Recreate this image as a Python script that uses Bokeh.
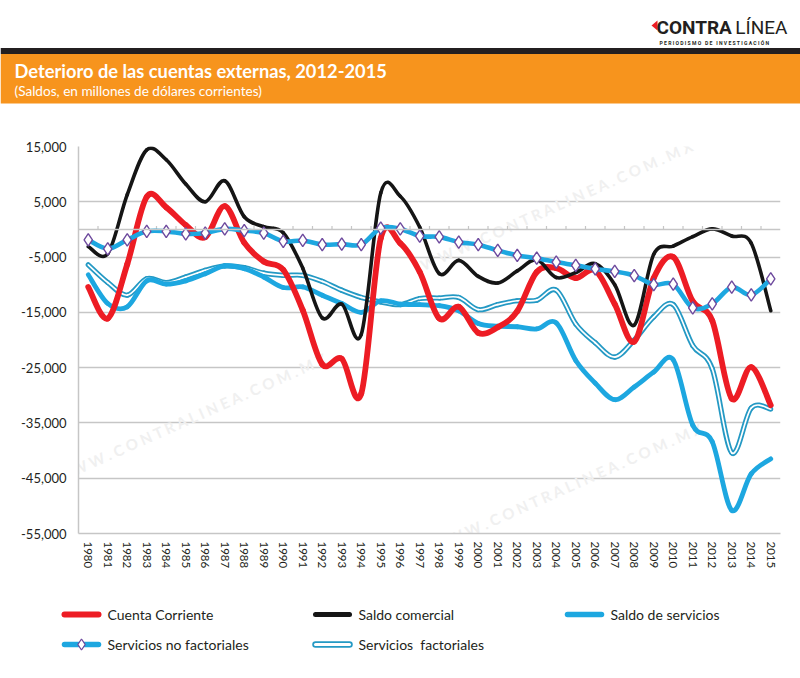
from bokeh.plotting import figure
from bokeh.layouts import column
from bokeh.models import Range1d, FixedTicker, NumeralTickFormatter, Span
from bokeh.core.properties import value
from bokeh.embed import file_html
from bokeh.resources import INLINE

# ---------------- data ----------------
years = list(range(1980, 2016))
year_labels = [str(y) for y in years]

cuenta_corriente = [-10400, -16100, -6300, 5900, 4000, 800, -1400, 4200, -2400, -5800,
                    -7300, -14600, -24400, -23400, -29700, -1600, -2500, -7700, -16100, -14000,
                    -18700, -17700, -14800, -7700, -7000, -8800, -7400, -13500, -20300, -8800,
                    -5000, -13000, -16500, -30600, -24900, -31800]
saldo_comercial = [-3100, -4400, 6300, 14400, 12600, 8200, 5000, 8800, 2300, 500,
                   -600, -7000, -16000, -13500, -19000, 6600, 6000, 400, -8000, -5600,
                   -8500, -9700, -7500, -5500, -8700, -7800, -6200, -10000, -17300, -4500,
                   -3000, -1300, 100, -1200, -2500, -14700]
saldo_servicios = [-8200, -13400, -14000, -9300, -9900, -9300, -8000, -6600, -7100, -8600,
                   -10500, -10400, -11900, -13400, -15000, -12900, -13500, -13600, -13800, -14700,
                   -17000, -17500, -17600, -18000, -16900, -23700, -27800, -30800, -28500, -25800,
                   -23600, -35400, -38400, -50800, -44200, -41500]
servicios_no_factoriales = [-1900, -3500, -1900, -350, -350, -800, -650, 100, -200, -650,
                            -2150, -2000, -2750, -2650, -2750, 250, 100, -1200, -1350, -2300,
                            -2750, -3800, -4700, -5200, -5900, -6500, -7150, -7600, -8350, -10000,
                            -9900, -14200, -13450, -10450, -11850, -8950]
servicios_factoriales = [-6400, -9600, -11900, -8900, -9600, -8600, -7400, -6600, -6900, -7900,
                         -8300, -8300, -9400, -11000, -12300, -13100, -13600, -12500, -12400, -12300,
                         -14500, -13600, -12900, -12800, -11000, -17100, -20500, -23100, -20000, -15800,
                         -13600, -21000, -25200, -40400, -32300, -32500]

y_ticks = [15000, 5000, -5000, -15000, -25000, -35000, -45000, -55000]

series_names = ["Cuenta Corriente", "Saldo comercial", "Saldo de servicios",
                "Servicios no factoriales", "Servicios\u00a0 factoriales"]

title_text = "Deterioro de las cuentas externas, 2012-2015"
subtitle_text = "(Saldos, en millones de dólares corrientes)"

FONT = "Lato"
RED = "#ED1C24"
BLACK = "#151515"
BLUE = "#1DA7E0"
TEAL = "#2499C4"
PURPLE = "#6E4A9E"
ORANGE = "#F7941D"
DARK = "#231F20"
GRID = "#C6C6C6"


def smooth(xs, ys):
    """Cubic Bezier segments (Catmull-Rom style) through the data points."""
    n = len(xs)
    out = {k: [] for k in ("x0", "y0", "x1", "y1", "cx0", "cy0", "cx1", "cy1")}
    for i in range(n - 1):
        a = max(i - 1, 0)
        d = min(i + 2, n - 1)
        out["x0"].append(xs[i]); out["y0"].append(ys[i])
        out["x1"].append(xs[i + 1]); out["y1"].append(ys[i + 1])
        out["cx0"].append(xs[i] + (xs[i + 1] - xs[a]) / 6.0)
        out["cy0"].append(ys[i] + (ys[i + 1] - ys[a]) / 6.0)
        out["cx1"].append(xs[i + 1] - (xs[d] - xs[i]) / 6.0)
        out["cy1"].append(ys[i + 1] - (ys[d] - ys[i]) / 6.0)
    return out


def no_align(fig):
    if "frame_align" in fig.properties():
        fig.frame_align = False


# ---------------- header ----------------
W = 800
hdr = figure(width=W, height=105, x_range=Range1d(0, W), y_range=Range1d(105, 0),
             x_axis_location=None, y_axis_location=None, toolbar_location=None,
             output_backend="svg", min_border=0, outline_line_color=None)
no_align(hdr)
hdr.grid.visible = False
hdr.quad(left=[0], right=[W], top=[47.5], bottom=[53.5], color=DARK, line_color=None)
hdr.quad(left=[0], right=[W], top=[53.5], bottom=[103], color=ORANGE, line_color=None)
hdr.text(x=[14], y=[70], text=[title_text], text_color="white", text_font=value(FONT),
         text_font_style="bold", text_font_size="18.3px", text_baseline="middle")
hdr.text(x=[14], y=[90], text=[subtitle_text], text_color="white", text_font=value(FONT),
         text_font_size="13.6px", text_baseline="middle")
# logo
hdr.patch(x=[651, 657, 657], y=[25, 20, 30], color=RED, line_color=None)
hdr.text(x=[656], y=[27], text=["CONTRA"], text_color=DARK, text_font=value("Roboto"),
         text_font_style="bold", text_font_size="19px", text_baseline="middle")
hdr.text(x=[787], y=[27], text=["LÍNEA"], text_color=DARK, text_font=value("Roboto"),
         text_font_size="19px", text_baseline="middle", text_align="right")
hdr.text(x=[659], y=[42],
         text=["P E R I O D I S M O\u00a0\u00a0\u00a0D E\u00a0\u00a0\u00a0I N V E S T I G A C I Ó N"],
         text_color=DARK, text_font=value("Roboto"), text_font_style="bold",
         text_font_size="5.1px", text_baseline="middle")

# ---------------- main chart ----------------
p = figure(width=W, height=495, x_range=Range1d(1979.5, 2015.5), y_range=Range1d(-55000, 15000),
           toolbar_location=None, output_backend="svg", outline_line_color=None,
           min_border_left=78, min_border_right=20, min_border_top=41, min_border_bottom=67)
no_align(p)
p.xgrid.visible = False
p.ygrid.ticker = FixedTicker(ticks=y_ticks)
p.ygrid.grid_line_color = GRID
p.ygrid.grid_line_width = 1.5

p.yaxis.ticker = FixedTicker(ticks=y_ticks)
p.yaxis.formatter = NumeralTickFormatter(format="0,0")
p.xaxis.ticker = FixedTicker(ticks=years)
p.xaxis.major_label_overrides = {y: s for y, s in zip(years, year_labels)}
p.xaxis.major_label_orientation = "vertical"
for ax in (p.xaxis, p.yaxis):
    ax.axis_line_color = GRID
    ax.axis_line_width = 1.5
    ax.major_tick_out = 0
    ax.major_tick_in = 0
    ax.minor_tick_out = 0
    ax.minor_tick_in = 0
    ax.major_label_text_font = FONT
    ax.major_label_text_color = DARK
p.yaxis.major_label_text_font_size = "13px"
p.yaxis.major_label_standoff = 12
p.xaxis.major_label_text_font_size = "11.5px"
p.xaxis.major_label_standoff = 8

# watermarks
wm = "W W W . C O N T R A L I N E A . C O M . M X"
p.text(x=[2004.1, 1985.3, 2004.6], y=[4500, -34000, -46500], text=[wm, wm, wm],
       angle=0.42, text_align="center", text_baseline="middle", text_color="#F0F0F0",
       text_font=value(FONT), text_font_style="bold", text_font_size="15px")

# zero line with category-boundary ticks
p.add_layout(Span(location=0, dimension="width", line_color=GRID, line_width=1.5))
bounds = [y + 0.5 for y in years[:-1]]
p.segment(x0=bounds, y0=[0] * len(bounds), x1=bounds, y1=[600] * len(bounds),
          line_color=GRID, line_width=1.2)

# series
sf = smooth(years, servicios_factoriales)
p.bezier(line_color=TEAL, line_width=5.2, line_cap="round", **sf)
p.bezier(line_color="white", line_width=1.7, line_cap="round", **sf)
p.bezier(line_color=BLUE, line_width=4.8, line_cap="round", **smooth(years, saldo_servicios))
p.bezier(line_color=RED, line_width=5.8, line_cap="round", **smooth(years, cuenta_corriente))
p.bezier(line_color=BLACK, line_width=3.6, line_cap="round", **smooth(years, saldo_comercial))
p.bezier(line_color=BLUE, line_width=4.6, line_cap="round", **smooth(years, servicios_no_factoriales))
p.scatter(x=years, y=servicios_no_factoriales, marker="diamond", size=12.5,
          fill_color="white", line_color=PURPLE, line_width=1.4)

# ---------------- legend (footer) ----------------
ft = figure(width=W, height=78, x_range=Range1d(0, W), y_range=Range1d(678, 600),
            x_axis_location=None, y_axis_location=None, toolbar_location=None,
            output_backend="svg", min_border=0, outline_line_color=None)
no_align(ft)
ft.grid.visible = False
lx = [64, 315, 567, 64, 315]
ly = [614, 614, 614, 644, 644]
ft.segment(x0=[lx[0]], y0=[ly[0]], x1=[lx[0] + 34], y1=[ly[0]], line_color=RED, line_width=6, line_cap="round")
ft.segment(x0=[lx[1]], y0=[ly[1]], x1=[lx[1] + 34], y1=[ly[1]], line_color=BLACK, line_width=5, line_cap="round")
ft.segment(x0=[lx[2]], y0=[ly[2]], x1=[lx[2] + 34], y1=[ly[2]], line_color=BLUE, line_width=5.5, line_cap="round")
ft.segment(x0=[lx[3]], y0=[ly[3]], x1=[lx[3] + 34], y1=[ly[3]], line_color=BLUE, line_width=5.5, line_cap="round")
ft.scatter(x=[lx[3] + 17], y=[ly[3]], marker="diamond", size=11, fill_color="white",
           line_color=PURPLE, line_width=1.3)
ft.segment(x0=[lx[4]], y0=[ly[4]], x1=[lx[4] + 34], y1=[ly[4]], line_color=TEAL, line_width=6.5, line_cap="round")
ft.segment(x0=[lx[4]], y0=[ly[4]], x1=[lx[4] + 34], y1=[ly[4]], line_color="white", line_width=3, line_cap="round")
ft.text(x=[x + 43 for x in lx], y=ly, text=series_names, text_color=DARK, text_font=value(FONT),
        text_font_size="14px", text_baseline="middle")

layout = column(hdr, p, ft, spacing=0)
open("out.html", "w").write(file_html(layout, INLINE))
